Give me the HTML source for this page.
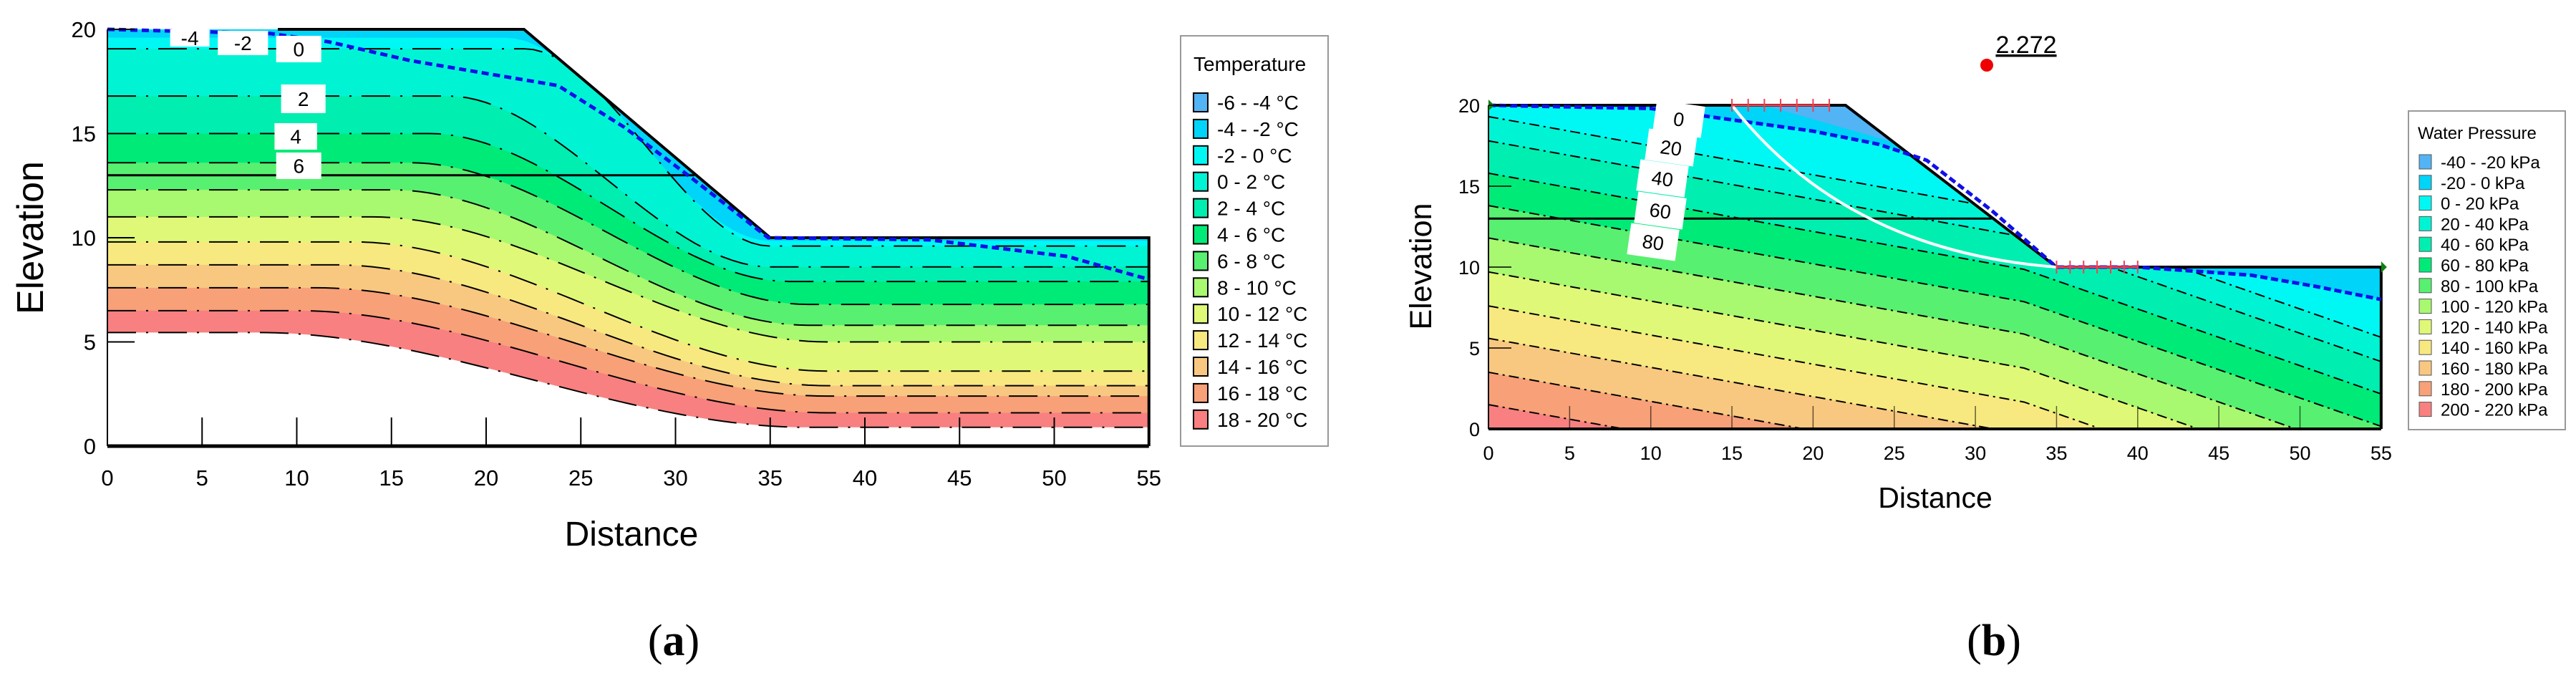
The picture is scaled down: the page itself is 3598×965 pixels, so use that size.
<!DOCTYPE html>
<html><head><meta charset="utf-8"><style>
html,body{margin:0;padding:0;background:#fff}
svg{display:block}
text{font-family:"Liberation Sans",Arial,sans-serif}
</style></head><body>
<svg id="s" width="3598" height="965" viewBox="0 0 3598 965" xmlns="http://www.w3.org/2000/svg">
<defs>
<clipPath id="clipA"><polygon id="domA"/></clipPath>
<clipPath id="clipB"><polygon id="domB"/></clipPath>
</defs>
<g id="ga"></g>
<g id="gb"></g>
<text x="941" y="915" font-size="62" text-anchor="middle" style="font-family:'Liberation Serif',serif">(<tspan font-weight="bold">a</tspan>)</text>
<text x="2785" y="915" font-size="62" text-anchor="middle" style="font-family:'Liberation Serif',serif">(<tspan font-weight="bold">b</tspan>)</text>
</svg>
<script>
// ---- data ----
const palette = ['#52b4f4','#00d4f8','#00f8f4','#00f4d4','#00eeb0','#00ea78','#58f070','#a8f870','#e0f878','#f8e880','#f8c880','#f8a078','#f88080'];
const tempLegend = ['-6 - -4 °C','-4 - -2 °C','-2 - 0 °C','0 - 2 °C','2 - 4 °C','4 - 6 °C','6 - 8 °C','8 - 10 °C','10 - 12 °C','12 - 14 °C','14 - 16 °C','16 - 18 °C','18 - 20 °C'];
const presLegend = ['-40 - -20 kPa','-20 - 0 kPa','0 - 20 kPa','20 - 40 kPa','40 - 60 kPa','60 - 80 kPa','80 - 100 kPa','100 - 120 kPa','120 - 140 kPa','140 - 160 kPa','160 - 180 kPa','180 - 200 kPa','200 - 220 kPa'];
const xTicks = [0,5,10,15,20,25,30,35,40,45,50,55];
const yTicks = [0,5,10,15,20];
// temperature isotherms (-2..20 °C)
const tempLevels = [-2,0,2,4,6,8,10,12,14,16,18,20];
const tempLeftY  = [19.6,19.07,16.8,15.0,13.6,12.3,11.0,9.8,8.7,7.6,6.5,5.45];
const tempRightY = [9.85,9.6,8.6,7.9,6.8,5.8,5.0,3.6,2.9,2.4,1.6,0.9];
const tempStartX = [21,22,18,17,16,15,14,13,12,11,10,8];
const tempEndX   = [35,35,35,36,37,37,38,38,38,38,38,37];
const tempPhrX = [0,8.6,11.7,16,21.2,23.8,27.3,30.8,34.9,43.4,50.7,55];
const tempPhrY = [20,19.8,19.4,18.5,17.7,17.3,15.3,12.9,10,9.9,9.1,8.0];
const tempLabels = ['-4','-2','0','2','4','6'];
// pore-pressure contours (20..200 kPa)
const presLevels = [20,40,60,80,100,120,140,160,180,200];
const presLeftY  = [19.3,17.8,15.8,13.8,11.8,9.7,7.6,5.6,3.5,1.5];
const presPhrX = [0,10,15,20,24,27,31,35,40,47,51,55];
const presPhrY = [20,19.8,19.1,18.4,17.6,16.6,13.5,10,10,9.5,8.8,8.0];
const presLabels = ['0','20','40','60','80'];
const fos = '2.272';

const NS='http://www.w3.org/2000/svg';
function el(p,tag,attrs,txt){const e=document.createElementNS(NS,tag);for(const k in attrs)e.setAttribute(k,attrs[k]);if(txt!==undefined)e.textContent=txt;p.appendChild(e);return e;}
const ga=document.getElementById('ga'), gb=document.getElementById('gb');

// ---------- chart A ----------
const AX=v=>150+v*26.45, AY=v=>623-v*29.1;
const dom=[[0,20],[22,20],[35,10],[55,10],[55,0],[0,0]];
document.getElementById('domA').setAttribute('points',dom.map(p=>AX(p[0])+','+AY(p[1])).join(' '));
function ss(t){t=Math.max(0,Math.min(1,t));return t*t*(3-2*t);}
function tY(i,x){const f=1-ss((x-tempStartX[i])/(tempEndX[i]-tempStartX[i]));return tempRightY[i]+(tempLeftY[i]-tempRightY[i])*f;}
const bandsA=el(ga,'g',{'clip-path':'url(#clipA)'});


el(bandsA,'rect',{x:AX(0),y:AY(20),width:AX(55)-AX(0),height:AY(0)-AY(20),fill:palette[1]});
for(let i=0;i<tempLevels.length;i++){
  let pts=[];for(let x=0;x<=55.001;x+=0.5)pts.push(AX(x)+','+AY(tY(i,x)));
  const poly=pts.concat([AX(55)+','+AY(-1),AX(0)+','+AY(-1)]).join(' ');
  const b=el(bandsA,'polygon',{points:poly,fill:i===tempLevels.length-1?'#fff':palette[i+2]});
  
  
}
for(let i=1;i<tempLevels.length;i++){
  let pts=[];for(let x=0;x<=55.001;x+=0.5)pts.push(AX(x)+','+AY(tY(i,x)));
  const l=el(bandsA,'polyline',{points:pts.join(' '),fill:'none',stroke:'#000','stroke-width':2,'stroke-dasharray':'40 14 3 14'});
  
  
}
el(ga,'line',{x1:AX(0),y1:AY(13),x2:AX(31),y2:AY(13),stroke:'#000','stroke-width':3});
el(ga,'polyline',{points:[[9,20],[22,20],[35,10],[55,10],[55,0]].map(p=>AX(p[0])+','+AY(p[1])).join(' '),fill:'none',stroke:'#000','stroke-width':4});
el(ga,'line',{x1:AX(0),y1:AY(0),x2:AX(55),y2:AY(0),stroke:'#000','stroke-width':5});
el(ga,'line',{x1:AX(0),y1:AY(0),x2:AX(0),y2:AY(20),stroke:'#000','stroke-width':2});
const phA=el(ga,'polyline',{points:tempPhrX.map((x,i)=>AX(x)+','+AY(tempPhrY[i])).join(' '),fill:'none',stroke:'#1010e8','stroke-width':5,'stroke-dasharray':'10 6'});


const boxA=[[207,41,61,24],[265,43,78,34],[336,50,70,37],[342,118,69,40],[334,172,66,37],[336,213,70,37]];
tempLabels.forEach((t,i)=>{const b=boxA[i];
  el(ga,'rect',{x:b[0]*1.148,y:b[1],width:b[2]*0.9,height:b[3],fill:'#fff'});
  const tx=el(ga,'text',{x:b[0]*1.148+b[2]*0.45,y:b[1]+b[3]/2+10,'font-size':28,'text-anchor':'middle'},t);
  
  
});
xTicks.forEach(v=>{el(ga,'line',{x1:AX(v),y1:AY(0),x2:AX(v),y2:AY(0)-40,stroke:'#000','stroke-width':2});
  const t=el(ga,'text',{x:AX(v),y:AY(0)+55,'font-size':31,'text-anchor':'middle'},v);
  
  });
yTicks.forEach(v=>{el(ga,'line',{x1:AX(0),y1:AY(v),x2:AX(0)+38,y2:AY(v),stroke:'#000','stroke-width':2});
  const t=el(ga,'text',{x:AX(0)-16,y:AY(v)+11,'font-size':31,'text-anchor':'end'},v);
  
  });
el(ga,'text',{x:882,y:762,'font-size':48,'text-anchor':'middle',},'Distance');
el(ga,'text',{x:60,y:332,'font-size':52,'text-anchor':'middle',transform:'rotate(-90 60 332)',},'Elevation');
const legA=el(ga,'g',{});


el(legA,'rect',{x:1649,y:50,width:206,height:573,fill:'#fff',stroke:'#999','stroke-width':2});
el(legA,'text',{x:1667,y:99,'font-size':28},'Temperature');
tempLegend.forEach((t,i)=>{const y=143+i*36.9;
  el(legA,'rect',{x:1667,y:y-13,width:20,height:26,fill:palette[i],stroke:'#000','stroke-width':2});
  const tx=el(legA,'text',{x:1700,y:y+10,'font-size':28},t);
  
  });

// ---------- chart B ----------
const BX=v=>2079+v*22.67, BY=v=>599-v*22.6;
document.getElementById('domB').setAttribute('points',dom.map(p=>BX(p[0])+','+BY(p[1])).join(' '));
function pY(i,x){const s1=0.18,s2=0.35,k=33;return x<=k?presLeftY[i]-s1*x:presLeftY[i]-s1*k-s2*(x-k);}
const bandsB=el(gb,'g',{'clip-path':'url(#clipB)'});


el(bandsB,'rect',{x:BX(0),y:BY(21),width:BX(55)-BX(0),height:BY(0)-BY(21),fill:palette[1]});
el(bandsB,'polygon',{points:[[17,20],[22,20],[25,17.7]].map(p=>BX(p[0])+','+BY(p[1])).join(' '),fill:palette[0]});
el(bandsB,'polygon',{points:presPhrX.map((x,i)=>BX(x)+','+BY(presPhrY[i])).concat([BX(55)+','+BY(-1),BX(0)+','+BY(-1)]).join(' '),fill:palette[2]});
presLevels.forEach((lv,i)=>{
  let pts=[];for(let x=0;x<=55.001;x+=0.5)pts.push(BX(x)+','+BY(pY(i,x)));
  const b=el(bandsB,'polygon',{points:pts.concat([BX(55)+','+BY(-3),BX(0)+','+BY(-3)]).join(' '),fill:palette[i+3]});
  
  
});
presLevels.forEach((lv,i)=>{
  let pts=[];for(let x=0;x<=55.001;x+=0.5)pts.push(BX(x)+','+BY(pY(i,x)));
  const l=el(bandsB,'polyline',{points:pts.join(' '),fill:'none',stroke:'#000','stroke-width':2,'stroke-dasharray':'14 6 3 6'});
  
  
});
el(gb,'line',{x1:BX(0),y1:BY(13),x2:BX(31),y2:BY(13),stroke:'#000','stroke-width':3});
el(gb,'polyline',{points:[[0,20],[22,20],[35,10],[55,10],[55,0]].map(p=>BX(p[0])+','+BY(p[1])).join(' '),fill:'none',stroke:'#000','stroke-width':4});
el(gb,'line',{x1:BX(0),y1:BY(0),x2:BX(55),y2:BY(0),stroke:'#000','stroke-width':4});
el(gb,'line',{x1:BX(0),y1:BY(0),x2:BX(0),y2:BY(20),stroke:'#000','stroke-width':2});
const phB=el(gb,'polyline',{points:presPhrX.map((x,i)=>BX(x)+','+BY(presPhrY[i])).join(' '),fill:'none',stroke:'#1010e8','stroke-width':5,'stroke-dasharray':'10 5'});


el(gb,'path',{d:`M${BX(15)},${BY(20)} Q${BX(22)},${BY(11)} ${BX(35)},${BY(10)}`,fill:'none',stroke:'#fff','stroke-width':4,});
[[15,21,20],[35,40,10]].forEach(r=>{el(gb,'line',{x1:BX(r[0]),y1:BY(r[2]),x2:BX(r[1]),y2:BY(r[2]),stroke:'#f04050','stroke-width':3});
  for(let x=r[0];x<=r[1]+0.01;x+=(r[1]-r[0])/6)el(gb,'line',{x1:BX(x),y1:BY(r[2])-9,x2:BX(x),y2:BY(r[2])+9,stroke:'#f04050','stroke-width':2});});
const boxB=[[2345,166],[2334,206],[2322,249],[2319,294],[2309,338]];
presLabels.forEach((t,i)=>{const b=boxB[i];
  const g=el(gb,'g',{transform:`translate(${b[0]},${b[1]}) rotate(8)`});
  el(g,'rect',{x:-34,y:-22,width:68,height:44,fill:'#fff'});
  const tx=el(g,'text',{x:0,y:10,'font-size':27,'text-anchor':'middle'},t);
  
  });
el(gb,'polygon',{points:`${BX(0)},${BY(20)-8} ${BX(0)+8},${BY(20)} ${BX(0)},${BY(20)+8}`,fill:'#108010'});
el(gb,'polygon',{points:`${BX(55)},${BY(10)-8} ${BX(55)+8},${BY(10)} ${BX(55)},${BY(10)+8}`,fill:'#108010'});
el(gb,'circle',{cx:2775,cy:91,r:9,fill:'#f00000',});
el(gb,'text',{x:2830,y:74,'font-size':34,'text-anchor':'middle','text-decoration':'underline',},fos);
xTicks.forEach(v=>{el(gb,'line',{x1:BX(v),y1:BY(0),x2:BX(v),y2:BY(0)-32,stroke:'#000','stroke-width':1.5,opacity:0.6});
  const t=el(gb,'text',{x:BX(v),y:BY(0)+43,'font-size':27,'text-anchor':'middle'},v);
  
  });
yTicks.forEach(v=>{el(gb,'line',{x1:BX(0),y1:BY(v),x2:BX(0)+32,y2:BY(v),stroke:'#000','stroke-width':1.5});
  const t=el(gb,'text',{x:BX(0)-12,y:BY(v)+10,'font-size':27,'text-anchor':'end'},v);
  
  });
el(gb,'text',{x:2703,y:709,'font-size':41,'text-anchor':'middle',},'Distance');
el(gb,'text',{x:1999,y:372,'font-size':43,'text-anchor':'middle',transform:'rotate(-90 1999 372)',},'Elevation');
const legB=el(gb,'g',{});


el(legB,'rect',{x:3364,y:155,width:219,height:445,fill:'#fff',stroke:'#999','stroke-width':2});
el(legB,'text',{x:3377,y:194,'font-size':24},'Water Pressure');
presLegend.forEach((t,i)=>{const y=226+i*28.8;
  el(legB,'rect',{x:3379,y:y-10,width:17,height:20,fill:palette[i],stroke:'#555','stroke-width':1});
  const tx=el(legB,'text',{x:3409,y:y+9,'font-size':24},t);
  
  });
</script>
</body></html>
